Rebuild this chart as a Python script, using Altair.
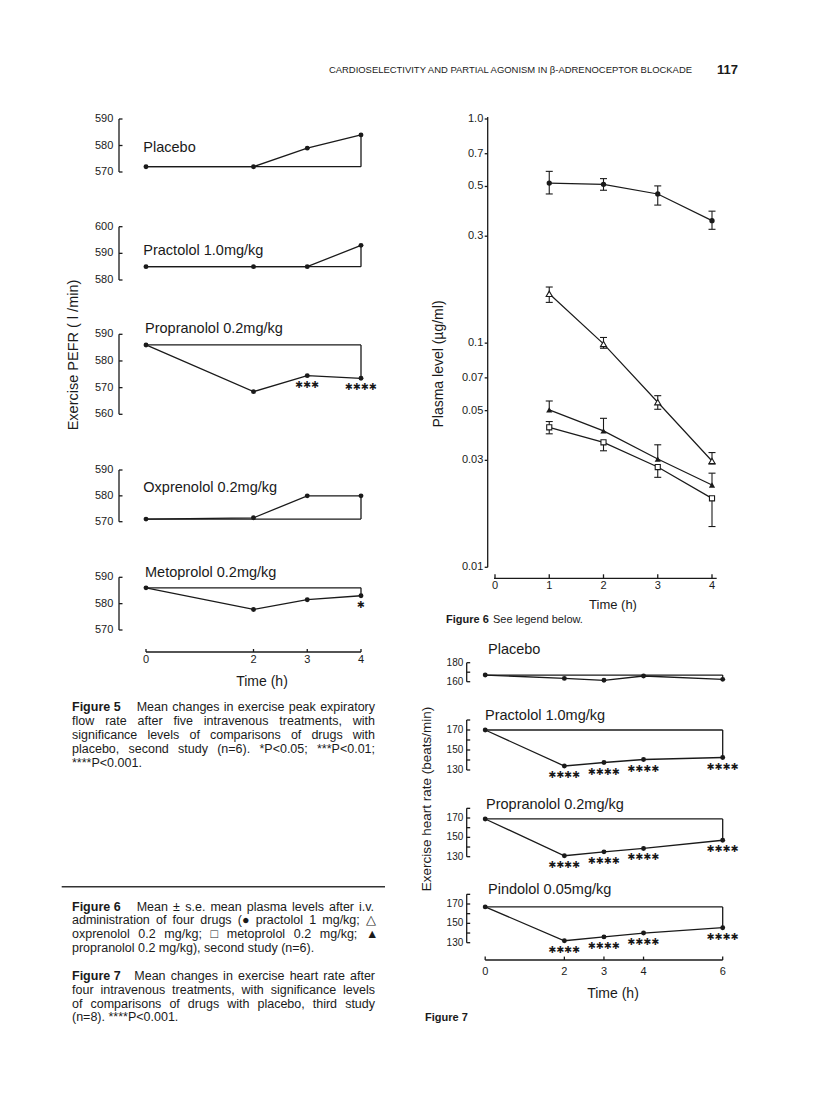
import altair as alt
import pandas as pd

FONT = "Liberation Sans"
STAR_FONT = "DejaVu Sans"
INK = "#1a1a1a"
STAR = "\u2731"

# ======================= DATA =======================
# Figure 5: exercise PEFR (l/min), second study
fig5_time = [0, 2, 3, 4]
fig5_xticks = [0, 2, 3, 4]
fig5_labels = ["Placebo", "Practolol 1.0mg/kg", "Propranolol 0.2mg/kg",
               "Oxprenolol 0.2mg/kg", "Metoprolol 0.2mg/kg"]
fig5_placebo = [572, 572, 579, 584]
fig5_practolol = [585, 585, 585, 593]
fig5_propranolol = [586, 568.5, 574.5, 573.5]
fig5_oxprenolol = [571, 571.5, 580, 580]
fig5_metoprolol = [586, 577.8, 581.5, 583]
fig5_yticks = [[570, 580, 590], [580, 590, 600], [560, 570, 580, 590],
               [570, 580, 590], [570, 580, 590]]
fig5_star_time = [[], [], [3, 4], [], [4]]
fig5_star_count = [[], [], [3, 4], [], [1]]

# Figure 6: plasma levels (ug/ml), mean +/- s.e.
fig6_time = [1, 2, 3, 4]
fig6_xticks = [0, 1, 2, 3, 4]
fig6_yticks = [0.01, 0.03, 0.05, 0.07, 0.1, 0.3, 0.5, 0.7, 1.0]
fig6_ytick_text = ["0.01", "0.03", "0.05", "0.07", "0.1", "0.3", "0.5", "0.7", "1.0"]
fig6_practolol = [0.518, 0.511, 0.463, 0.352]
fig6_practolol_hi = [0.584, 0.542, 0.503, 0.388]
fig6_practolol_lo = [0.463, 0.481, 0.413, 0.322]
fig6_oxprenolol = [0.166, 0.0992, 0.0545, 0.0298]
fig6_oxprenolol_hi = [0.178, 0.106, 0.0583, 0.0325]
fig6_oxprenolol_lo = [0.152, 0.0949, 0.0507, 0.0289]
fig6_propranolol = [0.0504, 0.0406, 0.0304, 0.0233]
fig6_propranolol_hi = [0.0552, 0.0462, 0.0352, 0.0263]
fig6_propranolol_lo = [0.0504, 0.0406, 0.0304, 0.0233]
fig6_metoprolol = [0.0421, 0.0361, 0.0280, 0.0203]
fig6_metoprolol_hi = [0.0447, 0.0361, 0.0280, 0.0203]
fig6_metoprolol_lo = [0.0394, 0.0331, 0.0252, 0.0152]

# Figure 7: exercise heart rate (beats/min), third study
fig7_time = [0, 2, 3, 4, 6]
fig7_xticks = [0, 2, 3, 4, 6]
fig7_labels = ["Placebo", "Practolol 1.0mg/kg", "Propranolol 0.2mg/kg", "Pindolol 0.05mg/kg"]
fig7_placebo = [167, 163.5, 161.5, 166, 162.5]
fig7_practolol = [170, 134, 137.5, 140.5, 142.5]
fig7_propranolol = [169, 131, 135, 138.5, 147]
fig7_pindolol = [167, 132, 136, 140, 145.5]
fig7_yticks = [[160, 170, 180], [130, 140, 150, 160, 170, 180],
               [130, 140, 150, 160, 170, 180], [130, 140, 150, 160, 170, 180]]
fig7_ylabels = [[160, 180], [130, 150, 170], [130, 150, 170], [130, 150, 170]]
fig7_star_time = [[], [2, 3, 4, 6], [2, 3, 4, 6], [2, 3, 4, 6]]
fig7_star_count = [[], [4, 4, 4, 4], [4, 4, 4, 4], [4, 4, 4, 4]]

# Page text
header_text = "CARDIOSELECTIVITY AND PARTIAL AGONISM IN \u03b2-ADRENOCEPTOR BLOCKADE"
page_number = "117"
cap5_head = "Figure 5"
cap5_lines = ["Mean changes in exercise peak expiratory",
              "flow rate after five intravenous treatments, with",
              "significance levels of comparisons of drugs with",
              "placebo, second study (n=6). *P<0.05; ***P<0.01;",
              "****P<0.001."]
cap6_head = "Figure 6"
cap6_lines = ["Mean \u00b1 s.e. mean plasma levels after i.v.",
              "administration of four drugs (\u25cf practolol 1 mg/kg; \u25b3",
              "oxprenolol 0.2 mg/kg; \u25a1 metoprolol 0.2 mg/kg; \u25b2",
              "propranolol 0.2 mg/kg), second study (n=6)."]
cap7_head = "Figure 7"
cap7_lines = ["Mean changes in exercise heart rate after",
              "four intravenous treatments, with significance levels",
              "of comparisons of drugs with placebo, third study",
              "(n=8). ****P<0.001."]

# ======================= LAYOUT (pixel geometry, plot origin = page (8, 8)) =======================
W, H = 800, 1096
LW = 1.3


def lin(dom, rng):
    return alt.Scale(domain=dom, range=rng, nice=False, zero=False)


F5_XS = ([0, 4], [138, 353])
f5_yrng = [[164, 111], [272, 218.7], [406.3, 326.3], [513.7, 462], [622, 569.3]]
f5_ydom = [[570, 590], [580, 600], [560, 590], [570, 590], [570, 590]]
f5_label_px = [(135.3, 140.3), (135.3, 242.7), (137, 321), (135.3, 480.3), (137, 565.3)]

F6_XS = ([0, 4], [487, 704])
F6_YS = ([0.01, 1.0], [559.3, 111])

F7_XS = ([0, 6], [477.2, 714.7])
f7_ydom = [[160, 180], [130, 170], [130, 170], [130, 170]]
f7_yrng = [[673.7, 654.7], [762, 722], [848.7, 810], [934.7, 896]]
f7_label_px = [(480, 642), (477, 708), (478, 797), (480, 882)]


def tfont(size, weight="normal"):
    return dict(font=FONT, fontSize=size, fontWeight=weight, color=INK)


one = pd.DataFrame({"a": [0]})


def vtext(txt, x, y, size, weight="normal", align="left", angle=0):
    kw = dict(text=txt, align=align, baseline="middle", **tfont(size, weight))
    if angle:
        kw["angle"] = angle
    return alt.Chart(one).mark_text(**kw).encode(x=alt.value(x), y=alt.value(y))


def bracket_panel(xsc, ysc, time, vals, label, label_px, yticks, ylabels,
                  ax_px, tick_px, lab_px, tick_fs, star_time, star_count,
                  label_fs=14.5, extra=()):
    X = alt.X("x:Q", scale=xsc, axis=None)
    Y = alt.Y("y:Q", scale=ysc, axis=None)
    L = []
    L.append(alt.Chart(pd.DataFrame({"y": [min(yticks)], "y2": [max(yticks)]}))
             .mark_rule(color=INK, strokeWidth=LW)
             .encode(x=alt.value(ax_px), y=Y, y2="y2:Q"))
    L.append(alt.Chart(pd.DataFrame({"y": yticks}))
             .mark_rule(color=INK, strokeWidth=LW)
             .encode(x=alt.value(ax_px), x2=alt.value(ax_px + tick_px), y=Y))
    L.append(alt.Chart(pd.DataFrame({"y": ylabels, "t": [str(v) for v in ylabels]}))
             .mark_text(align="right", baseline="middle", **tfont(tick_fs))
             .encode(x=alt.value(lab_px), y=Y, text="t:N"))
    # pre-treatment reference line closing the shape at the last time point
    L.append(alt.Chart(pd.DataFrame({"x": [time[0], time[-1]], "x2": [time[-1], time[-1]],
                                     "y": [vals[0], vals[-1]], "y2": [vals[0], vals[0]]}))
             .mark_rule(color=INK, strokeWidth=LW).encode(x=X, x2="x2:Q", y=Y, y2="y2:Q"))
    df = pd.DataFrame({"x": time, "y": vals})
    L.append(alt.Chart(df).mark_line(color=INK, strokeWidth=LW).encode(x=X, y=Y))
    L.append(alt.Chart(df).mark_circle(size=24, color=INK, opacity=1).encode(x=X, y=Y))
    L.append(vtext(label, label_px[0], label_px[1], label_fs))
    if star_time:
        sdf = pd.DataFrame({"x": star_time,
                            "y": [vals[time.index(t)] for t in star_time],
                            "t": [STAR * c for c in star_count]})
        L.append(alt.Chart(sdf).mark_text(align="center", baseline="middle", dy=9,
                                          font=STAR_FONT, fontSize=9.5, color=INK)
                 .encode(x=X, y=Y, text="t:N"))
    L.extend(extra)
    return alt.layer(*L)


def x_axis_layers(xsc, ticks, y_px, tick_up, lab_y, x_from=None, x_to=None):
    X = alt.X("x:Q", scale=xsc, axis=None)
    out = []
    if x_from is None:
        out.append(alt.Chart(pd.DataFrame({"x": [min(ticks)], "x2": [max(ticks)]}))
                   .mark_rule(color=INK, strokeWidth=LW)
                   .encode(x=X, x2="x2:Q", y=alt.value(y_px)))
    else:
        out.append(alt.Chart(one).mark_rule(color=INK, strokeWidth=LW)
                   .encode(x=alt.value(x_from), x2=alt.value(x_to), y=alt.value(y_px)))
    out.append(alt.Chart(pd.DataFrame({"x": ticks})).mark_rule(color=INK, strokeWidth=LW)
               .encode(x=X, y=alt.value(y_px), y2=alt.value(y_px - tick_up)))
    out.append(alt.Chart(pd.DataFrame({"x": ticks, "t": [str(t) for t in ticks]}))
               .mark_text(align="center", baseline="middle", **tfont(11))
               .encode(x=X, y=alt.value(lab_y), text="t:N"))
    return out


# ---------------- Figure 5 ----------------
fig5_values = [fig5_placebo, fig5_practolol, fig5_propranolol, fig5_oxprenolol, fig5_metoprolol]
panels = []
for i in range(5):
    xsc = lin(*F5_XS)
    ysc = lin(f5_ydom[i], f5_yrng[i])
    extra = []
    if i == 4:
        extra = x_axis_layers(xsc, fig5_xticks, 644, 3, 652)
        extra.append(vtext("Time (h)", 254, 673.7, 14, align="center"))
    if i == 2:
        extra = [vtext("Exercise PEFR ( l /min)", 66, 347, 14.5, align="center", angle=270)]
    panels.append(bracket_panel(xsc, ysc, fig5_time, fig5_values[i], fig5_labels[i],
                                f5_label_px[i], fig5_yticks[i], fig5_yticks[i],
                                111, 3.5, 105.3, 11, fig5_star_time[i], fig5_star_count[i],
                                extra=extra))

# ---------------- Figure 6 ----------------
xs6 = lin(*F6_XS)
ys6 = alt.Scale(type="log", domain=F6_YS[0], range=F6_YS[1], nice=False)
X6 = alt.X("x:Q", scale=xs6, axis=None)
Y6 = alt.Y("y:Q", scale=ys6, axis=None)
series6 = [("practolol", fig6_practolol, fig6_practolol_hi, fig6_practolol_lo),
           ("oxprenolol", fig6_oxprenolol, fig6_oxprenolol_hi, fig6_oxprenolol_lo),
           ("propranolol", fig6_propranolol, fig6_propranolol_hi, fig6_propranolol_lo),
           ("metoprolol", fig6_metoprolol, fig6_metoprolol_hi, fig6_metoprolol_lo)]
rows, bars, caps = [], [], []
CAPW = 3.5 / 54.25
for name, m, hi, lo in series6:
    for t, a, h, l in zip(fig6_time, m, hi, lo):
        rows.append({"s": name, "x": t, "y": a})
        if h > l:
            bars.append({"x": t, "y": l, "y2": h})
        if h > a:
            caps.append({"x": t - CAPW, "x2": t + CAPW, "y": h})
        if l < a:
            caps.append({"x": t - CAPW, "x2": t + CAPW, "y": l})
d6 = pd.DataFrame(rows)
L6 = []
L6.append(alt.Chart(pd.DataFrame({"y": [0.01], "y2": [1.02]}))
          .mark_rule(color=INK, strokeWidth=LW).encode(x=alt.value(479.7), y=Y6, y2="y2:Q"))
L6.append(alt.Chart(pd.DataFrame({"y": fig6_yticks})).mark_rule(color=INK, strokeWidth=LW)
          .encode(x=alt.value(476.7), x2=alt.value(479.7), y=Y6))
L6.append(alt.Chart(pd.DataFrame({"y": fig6_yticks, "t": fig6_ytick_text}))
          .mark_text(align="right", baseline="middle", **tfont(11))
          .encode(x=alt.value(475.3), y=Y6, text="t:N"))
L6.extend(x_axis_layers(xs6, fig6_xticks, 570.3, 4, 577.7, x_from=486, x_to=708.7))
L6.append(alt.Chart(d6).mark_line(color=INK, strokeWidth=1.2).encode(x=X6, y=Y6, detail="s:N"))
L6.append(alt.Chart(pd.DataFrame(bars)).mark_rule(color=INK, strokeWidth=1.1)
          .encode(x=X6, y=Y6, y2="y2:Q"))
L6.append(alt.Chart(pd.DataFrame(caps)).mark_rule(color=INK, strokeWidth=1.1)
          .encode(x=X6, x2="x2:Q", y=Y6))
L6.append(alt.Chart(d6[d6.s == "practolol"]).mark_point(
    shape="circle", filled=True, color=INK, size=28, opacity=1).encode(x=X6, y=Y6))
L6.append(alt.Chart(d6[d6.s == "oxprenolol"]).mark_point(
    shape="triangle-up", filled=True, fill="white", stroke=INK, strokeWidth=1.1, size=38,
    opacity=1).encode(x=X6, y=Y6))
L6.append(alt.Chart(d6[d6.s == "metoprolol"]).mark_point(
    shape="square", filled=True, fill="white", stroke=INK, strokeWidth=1.1, size=26,
    opacity=1).encode(x=X6, y=Y6))
L6.append(alt.Chart(d6[d6.s == "propranolol"]).mark_point(
    shape="triangle-up", filled=True, color=INK, size=38, opacity=1).encode(x=X6, y=Y6))
L6.append(vtext("Time (h)", 605, 597, 13, align="center"))
L6.append(vtext("Plasma level (\u00b5g/ml)", 431, 356, 14, align="center", angle=270))
L6.append(vtext("Figure 6", 438, 612, 11, "bold"))
L6.append(vtext("See legend below.", 485, 612, 11))
panels.append(alt.layer(*L6))

# ---------------- Figure 7 ----------------
fig7_values = [fig7_placebo, fig7_practolol, fig7_propranolol, fig7_pindolol]
for i in range(4):
    xsc = lin(*F7_XS)
    ysc = lin(f7_ydom[i], f7_yrng[i])
    extra = []
    if i == 3:
        extra = x_axis_layers(xsc, fig7_xticks, 952, 3.4, 963.7)
        extra.append(vtext("Time (h)", 605, 986, 14, align="center"))
        extra.append(vtext("Figure 7", 417, 1010, 11, "bold"))
    if i == 2:
        extra = [vtext("Exercise heart rate (beats/min)", 419, 791, 13.5,
                       align="center", angle=270)]
    panels.append(bracket_panel(xsc, ysc, fig7_time, fig7_values[i], fig7_labels[i],
                                f7_label_px[i], fig7_yticks[i], fig7_ylabels[i],
                                458.7, 3.5, 455.3, 10, fig7_star_time[i], fig7_star_count[i],
                                extra=extra))

# ---------------- header ----------------
panels.append(alt.layer(vtext(header_text, 684, 62, 9.45, align="right"),
                        vtext(page_number, 730, 62, 13, "bold", align="right")))

# ---------------- captions (justified) ----------------
_W = {' ': 278, '!': 278, '(': 333, ')': 333, '*': 389, '+': 584, ',': 278, '-': 333,
      '.': 278, '/': 278, ':': 278, ';': 278, '<': 584, '=': 584, '>': 584,
      '\u00b1': 584, '\u25cf': 604, '\u25b3': 722, '\u25a1': 604, '\u25b2': 722}
for c in "0123456789":
    _W[c] = 556
for c, w in zip("ABCDEFGHIJKLMNOPQRSTUVWXYZ",
                [667, 667, 722, 722, 667, 611, 778, 722, 278, 500, 667, 556, 833, 722, 778,
                 667, 778, 722, 667, 611, 722, 667, 944, 667, 667, 611]):
    _W[c] = w
for c, w in zip("abcdefghijklmnopqrstuvwxyz",
                [556, 556, 500, 556, 556, 278, 556, 556, 222, 222, 500, 222, 833, 556, 556,
                 556, 556, 333, 500, 278, 556, 500, 722, 500, 500, 500]):
    _W[c] = w


def tw(s, fs):
    return sum(_W.get(c, 600) for c in s) * fs / 1000.0


CAP_FS = 12.5
CAP_X0 = 64
CAP_X1 = 367


def caption_rows(head, lines, head_rest_x, y0, dy):
    norm, bold = [], [{"x": CAP_X0, "y": y0, "t": head}]
    for k, line in enumerate(lines):
        y = y0 + dy * k
        x0 = head_rest_x if k == 0 else CAP_X0
        words = line.split(" ")
        if k == len(lines) - 1 or len(words) < 2:
            norm.append({"x": x0, "y": y, "t": line})
            continue
        nat = sum(tw(w, CAP_FS) for w in words)
        gap = (CAP_X1 - x0 - nat) / (len(words) - 1)
        x = x0
        for w in words:
            norm.append({"x": x, "y": y, "t": w})
            x += tw(w, CAP_FS) + gap
    return norm, bold


n5, b5 = caption_rows(cap5_head, cap5_lines, 128.7, 699, 14.0)
n6, b6 = caption_rows(cap6_head, cap6_lines, 128.7, 898.7, 13.7)
n7, b7 = caption_rows(cap7_head, cap7_lines, 126.3, 968, 13.8)
CX = alt.X("x:Q", scale=None, axis=None)
CY = alt.Y("y:Q", scale=None, axis=None)
cap_norm = alt.Chart(pd.DataFrame(n5 + n6 + n7)).mark_text(
    align="left", baseline="middle", **tfont(CAP_FS)).encode(x=CX, y=CY, text="t:N")
cap_bold = alt.Chart(pd.DataFrame(b5 + b6 + b7)).mark_text(
    align="left", baseline="middle", **tfont(CAP_FS, "bold")).encode(x=CX, y=CY, text="t:N")
cap_rule = alt.Chart(one).mark_rule(color="#333333", strokeWidth=1.4).encode(
    x=alt.value(53.7), x2=alt.value(377), y=alt.value(878.7))
panels.append(alt.layer(cap_rule, cap_norm, cap_bold))

chart = alt.layer(*panels).resolve_scale(x="independent", y="independent").properties(
    width=W, height=H, padding=0
).configure(font=FONT, background="white").configure_view(stroke=None)

chart.save("out.html", embed_options={"renderer": "svg", "actions": False})
